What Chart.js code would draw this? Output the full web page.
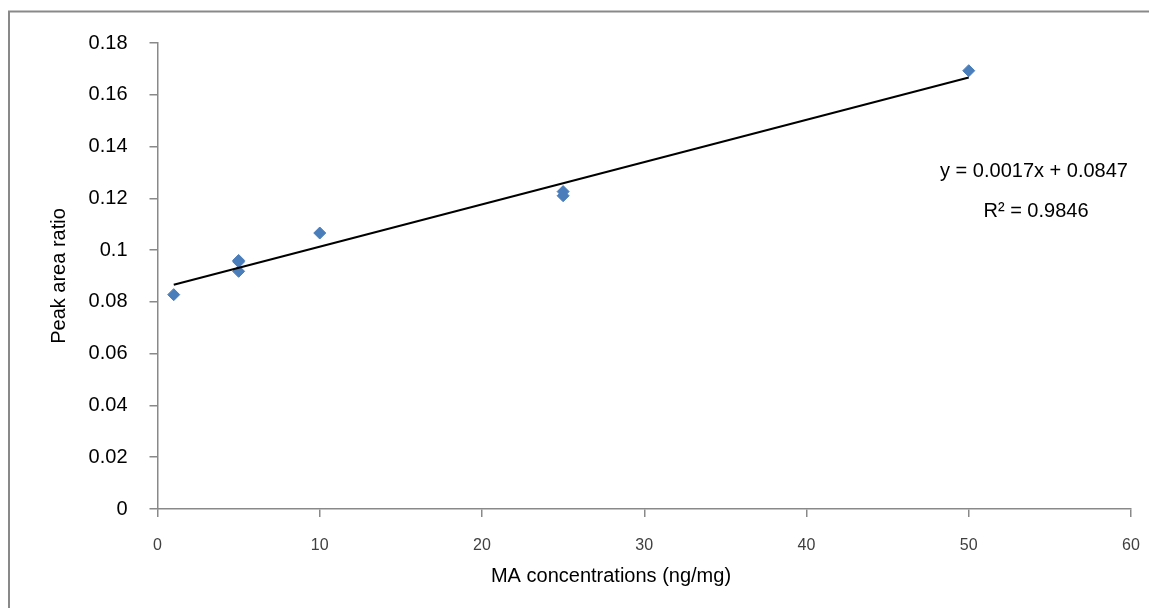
<!DOCTYPE html>
<html>
<head>
<meta charset="utf-8">
<script src="https://cdn.jsdelivr.net/npm/chart.js@4.4.1/dist/chart.umd.min.js"></script>
<style>
    html, body { margin: 0; padding: 0; background: #fff; }
    #wrap { width: 1149px; height: 608px; position: relative; }
</style>
</head>
<body>
<div id="wrap"><canvas id="calChart"></canvas></div>
<script>
// calibration points
const concentrations = [1, 5, 5, 5, 10, 25, 25, 50];
const peakAreaRatios = [0.0828, 0.0960, 0.0955, 0.0918, 0.1066, 0.1226, 0.1210, 0.1693];

const xTickLabels = ['0', '10', '20', '30', '40', '50', '60'];
const yTickLabels = ['0', '0.02', '0.04', '0.06', '0.08', '0.1', '0.12', '0.14', '0.16', '0.18'];

const xTitle = 'MA concentrations (ng/mg)';
const yTitle = 'Peak area ratio';
const equationText = 'y = 0.0017x + 0.0847';
const r2Text = 'R² = 0.9846';

document.addEventListener('DOMContentLoaded', () => {
    const ctx = document.getElementById('calChart');
    if (!ctx) return;

    Chart.defaults.font.family = '"Liberation Sans", Arial, sans-serif';

    const points = concentrations.map((x, i) => ({ x: x, y: peakAreaRatios[i] }));

    // least squares trendline, like the spreadsheet does
    const n = points.length;
    const mx = concentrations.reduce((a, b) => a + b, 0) / n;
    const my = peakAreaRatios.reduce((a, b) => a + b, 0) / n;
    let sxy = 0, sxx = 0;
    points.forEach(p => {
        sxy += (p.x - mx) * (p.y - my);
        sxx += (p.x - mx) * (p.x - mx);
    });
    const slope = sxy / sxx;
    const intercept = my - slope * mx;
    const xMin = Math.min(...concentrations);
    const xMax = Math.max(...concentrations);
    const trend = [
        { x: xMin, y: intercept + slope * xMin },
        { x: xMax, y: intercept + slope * xMax }
    ];

    const axisGrey = '#898989';

    const decor = {
        id: 'decor',
        afterDraw(chart) {
            const c = chart.ctx;
            c.save();
            c.strokeStyle = axisGrey;
            c.lineWidth = 2;
            c.strokeRect(9, 11.5, 1400, 800);

            c.fillStyle = '#000';
            c.font = '20px "Liberation Sans", Arial, sans-serif';
            c.textAlign = 'center';
            c.textBaseline = 'alphabetic';
            c.fillText(xTitle, 611, 582);
            c.fillText(equationText, 1034, 177);
            c.fillText(r2Text, 1036, 217);
            c.restore();
        }
    };

    new Chart(ctx, {
        type: 'scatter',
        data: {
            datasets: [{
                label: 'Peak area ratio',
                data: points,
                pointStyle: 'rectRot',
                pointRadius: 6,
                pointBorderWidth: 1,
                backgroundColor: '#4A7EBB',
                borderColor: '#4A7EBB',
                order: 2
            }, {
                label: 'Linear',
                type: 'line',
                data: trend,
                borderColor: '#000',
                borderWidth: 2,
                pointRadius: 0,
                fill: false,
                order: 1
            }]
        },
        options: {
            responsive: true,
            maintainAspectRatio: false,
            animation: false,
            devicePixelRatio: 1,
            layout: { padding: { top: 43, right: 18, left: 0, bottom: 0 } },
            scales: {
                x: {
                    type: 'linear',
                    min: 0,
                    max: 60,
                    afterFit: s => {
                        s.height = 99;
                        s.paddingLeft = 0;
                        s.paddingRight = 0;
                    },
                    ticks: {
                        stepSize: 10,
                        padding: 19,
                        color: '#404040',
                        font: { size: 16 },
                        callback: (v, i) => xTickLabels[i]
                    },
                    grid: { drawOnChartArea: false, tickLength: 8, color: axisGrey, lineWidth: 1.5 },
                    border: { color: axisGrey, width: 1.5 }
                },
                y: {
                    min: 0,
                    max: 0.18,
                    afterFit: s => { s.width = 157.5; },
                    ticks: {
                        stepSize: 0.02,
                        padding: 22,
                        color: '#000',
                        font: { size: 20 },
                        callback: (v, i) => yTickLabels[i]
                    },
                    grid: { drawOnChartArea: false, tickLength: 8, color: axisGrey, lineWidth: 1.5 },
                    border: { color: axisGrey, width: 1.5 },
                    title: {
                        display: true,
                        text: yTitle,
                        color: '#000',
                        font: { size: 20 },
                        padding: { top: 47, bottom: 0 }
                    }
                }
            },
            plugins: {
                legend: { display: false },
                tooltip: { enabled: false }
            }
        },
        plugins: [decor]
    });
});
</script>
</body>
</html>
